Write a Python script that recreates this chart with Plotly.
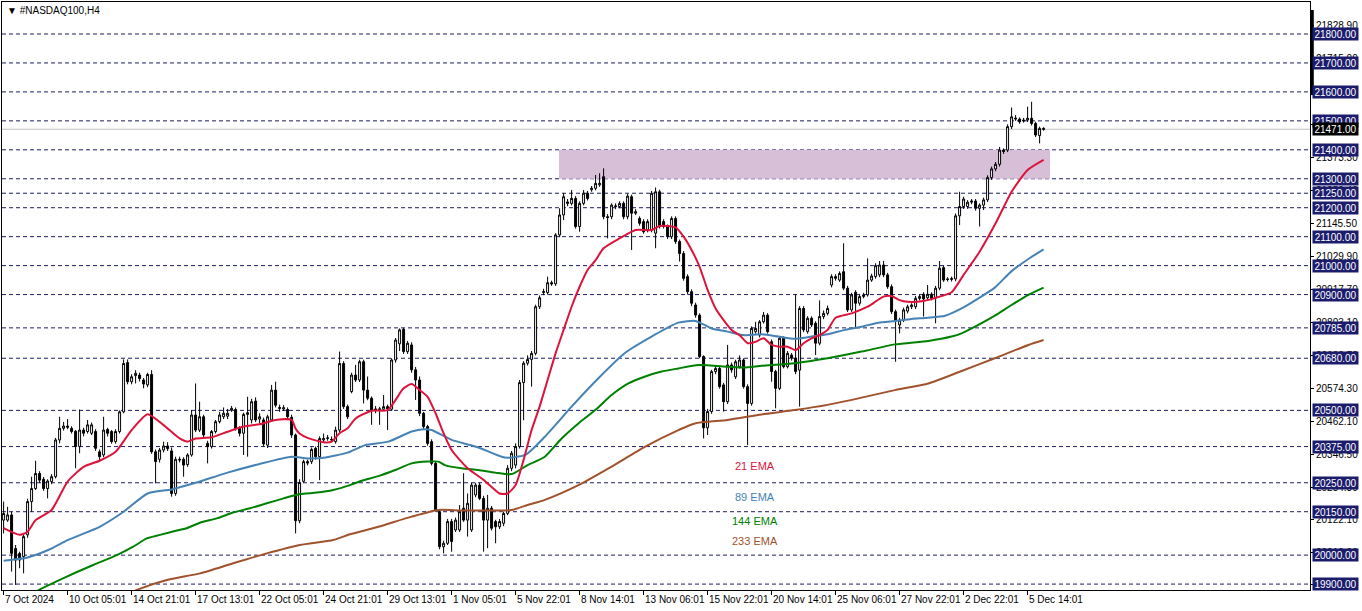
import plotly.graph_objects as go

# ---------------- data (H4 candles, bar index 0..260) ----------------
open_ = [20121,20121,20139,20023,20006,19995,20070,20185,20230,20282,
         20262,20230,20254,20271,20398,20438,20446,20438,20428,20375,
         20432,20427,20421,20427,20357,20346,20434,20427,20392,20427,
         20495,20665,20599,20620,20622,20605,20588,20624,20357,20331,
         20363,20377,20360,20213,20331,20331,20313,20346,20484,20432,
         20478,20386,20375,20427,20461,20478,20480,20500,20503,20438,
         20421,20486,20467,20532,20470,20467,20380,20467,20570,20510,
         20505,20503,20476,20415,20119,20255,20323,20323,20369,20340,
         20398,20403,20400,20392,20432,20662,20513,20565,20622,20605,
         20668,20570,20542,20505,20502,20504,20513,20504,20674,20730,
         20780,20703,20726,20640,20605,20490,20444,20392,20317,20150,
         20029,20041,20116,20087,20087,20162,20121,20087,20208,20242,
         20196,20121,20162,20116,20098,20110,20144,20300,20311,20375,
         20596,20663,20676,20697,20858,20907,20907,20941,20937,21106,
         21175,21220,21215,21232,21135,21215,21250,21262,21267,21279,
         21307,21169,21169,21204,21204,21215,21169,21238,21181,21163,
         21152,21123,21123,21112,21255,21152,21135,21100,21163,21083,
         21042,20962,20910,20864,20829,20686,20440,20496,20634,20645,
         20588,20530,20657,20616,20651,20674,20582,20524,20772,20760,
         20806,20829,20737,20634,20576,20749,20651,20691,20680,20639,
         20852,20772,20818,20801,20732,20824,20835,20933,20962,20950,
         20979,20922,20847,20908,20870,20893,20899,20950,20962,20968,
         21002,20968,20927,20841,20795,20812,20843,20858,20858,20887,
         20901,20889,20901,20889,20922,20993,20954,20952,20954,21172,
         21204,21204,21219,21223,21198,21209,21227,21304,21334,21350,
         21399,21399,21480,21506,21506,21503,21503,21509,21491,21449,
         21474]
high = [20185,20167,20150,20035,20012,20070,20195,20271,20326,20290,
        20270,20262,20280,20405,20478,20460,20470,20445,20432,20503,
        20440,20467,20458,20435,20365,20478,20440,20432,20435,20500,
        20676,20676,20625,20639,20630,20612,20630,20639,20365,20370,
        20392,20390,20372,20340,20340,20338,20352,20501,20593,20530,
        20485,20395,20432,20467,20495,20510,20505,20515,20510,20445,
        20492,20547,20540,20545,20490,20475,20485,20588,20599,20520,
        20518,20510,20485,20420,20262,20330,20330,20372,20375,20410,
        20420,20415,20410,20444,20703,20670,20520,20630,20657,20675,
        20675,20617,20548,20515,20512,20553,20520,20680,20750,20783,
        20785,20740,20735,20650,20617,20495,20450,20400,20322,20156,
        20050,20125,20125,20130,20173,20283,20213,20250,20250,20250,
        20205,20208,20170,20122,20125,20150,20311,20360,20386,20605,
        20670,20690,20705,20865,20897,20920,20962,20948,21112,21198,
        21250,21230,21261,21240,21222,21261,21258,21275,21313,21319,
        21336,21178,21215,21215,21222,21222,21248,21245,21195,21170,
        21160,21160,21258,21270,21262,21160,21142,21170,21170,21090,
        21050,20970,20918,20872,20835,20690,20505,20640,20652,20652,
        20595,20726,20665,20675,20690,20680,20590,20790,20806,20812,
        20840,20836,20745,20640,20756,20756,20705,20698,20901,20860,
        20860,20825,20825,20808,20880,20845,20862,20970,20970,20980,
        21077,20930,20906,20915,20900,20906,21025,20972,21008,21016,
        21016,20975,20935,20848,20820,20855,20865,20870,20895,20900,
        20908,20933,20908,20930,21016,21000,20960,20962,21180,21255,
        21238,21226,21230,21230,21215,21235,21312,21342,21358,21410,
        21405,21488,21546,21520,21512,21510,21549,21566,21497,21480,
        21478]
low = [20075,20115,19943,19897,19955,19937,20060,20150,20225,20250,
       20222,20196,20245,20265,20386,20430,20435,20420,20300,20352,
       20410,20420,20415,20360,20325,20338,20410,20385,20385,20420,
       20490,20590,20590,20593,20600,20576,20580,20350,20248,20320,
       20355,20360,20202,20205,20320,20271,20305,20340,20425,20425,
       20405,20317,20368,20420,20455,20470,20470,20495,20430,20410,
       20346,20340,20455,20460,20455,20375,20370,20460,20510,20495,
       20498,20470,20405,20075,20110,20250,20310,20315,20330,20259,
       20390,20395,20390,20385,20425,20505,20470,20559,20598,20598,
       20524,20535,20450,20490,20450,20498,20432,20498,20665,20705,
       20695,20695,20630,20536,20480,20435,20378,20310,20150,20020,
       20006,20035,20012,20080,20080,20115,20064,20080,20200,20190,
       20012,20024,20085,20041,20090,20100,20138,20290,20300,20368,
       20466,20655,20582,20690,20850,20898,20900,20930,20930,21098,
       21157,21205,21208,21128,21117,21208,21225,21255,21260,21272,
       21160,21094,21160,21195,21198,21160,21160,21054,21175,21138,
       21110,21115,21115,21060,21128,21128,21092,21092,21075,21014,
       20948,20900,20860,20820,20680,20403,20415,20488,20625,20575,
       20496,20522,20630,20608,20645,20575,20380,20516,20765,20752,
       20800,20765,20599,20507,20570,20645,20645,20672,20625,20513,
       20770,20765,20788,20691,20725,20815,20828,20925,20948,20944,
       20915,20840,20840,20783,20862,20887,20893,20944,20955,20960,
       20960,20920,20833,20668,20766,20805,20835,20850,20850,20880,
       20824,20882,20880,20801,20915,20944,20945,20945,20946,21140,
       21196,21196,21212,21190,21135,21192,21220,21296,21326,21342,
       21386,21392,21472,21500,21490,21494,21496,21484,21444,21422,
       21466]
close = [20144,20139,20006,19983,19983,20064,20185,20230,20282,20259,
         20230,20256,20271,20398,20438,20446,20442,20427,20375,20432,
         20421,20450,20450,20369,20340,20432,20421,20392,20427,20495,
         20662,20599,20616,20628,20610,20591,20624,20357,20323,20363,
         20377,20368,20213,20331,20329,20311,20346,20484,20432,20478,
         20415,20375,20427,20461,20484,20490,20490,20507,20438,20421,
         20486,20492,20530,20467,20478,20384,20478,20570,20518,20507,
         20509,20478,20415,20119,20251,20323,20318,20365,20340,20403,
         20403,20405,20398,20432,20662,20513,20478,20622,20605,20668,
         20570,20542,20501,20501,20505,20513,20505,20674,20743,20778,
         20703,20732,20640,20605,20490,20444,20386,20317,20156,20029,
         20041,20116,20047,20121,20150,20121,20179,20242,20242,20196,
         20121,20162,20093,20098,20116,20144,20300,20352,20375,20596,
         20663,20676,20697,20858,20889,20910,20941,20937,21106,21175,
         21238,21215,21232,21135,21215,21250,21232,21267,21284,21284,
         21169,21166,21209,21206,21215,21169,21240,21181,21186,21146,
         21117,21152,21250,21255,21135,21135,21100,21163,21083,21042,
         20956,20910,20870,20829,20686,20440,20496,20634,20645,20582,
         20530,20657,20640,20668,20674,20582,20524,20783,20783,20806,
         20829,20772,20634,20576,20749,20651,20697,20680,20634,20852,
         20778,20818,20795,20732,20824,20835,20852,20962,20956,20973,
         20922,20847,20899,20870,20893,20899,20950,20964,21000,21002,
         20968,20927,20841,20812,20812,20847,20858,20864,20887,20893,
         20885,20901,20887,20922,20991,20950,20952,20955,21172,21204,
         21230,21219,21223,21198,21209,21227,21304,21334,21350,21399,
         21394,21480,21514,21509,21497,21500,21509,21491,21451,21474,
         21471]

# EMA lines (bar index, price)
ema21_x = [0,4,6,8,12,16,20,24,28,32,36,40,44,46,48,52,56,60,64,68,72,73,74,76,80,82,84,86,88,92,96,100,102,104,106,108,110,112,116,120,124,126,128,130,132,134,136,138,140,142,144,146,148,150,154,158,162,164,168,170,172,174,176,178,180,182,184,186,188,190,192,194,196,198,200,202,204,206,208,212,216,220,222,224,226,230,234,237,240,244,248,252,256,260]
ema21_y = [20093,20070,20081,20121,20156,20254,20305,20326,20357,20432,20487,20449,20403,20392,20403,20407,20426,20444,20452,20467,20467,20437,20420,20405,20390,20392,20421,20438,20472,20499,20501,20576,20591,20570,20547,20490,20421,20363,20300,20260,20213,20213,20242,20329,20432,20513,20605,20697,20778,20858,20927,20985,21019,21060,21094,21123,21123,21137,21132,21100,21054,20996,20916,20852,20812,20778,20760,20732,20737,20749,20726,20720,20720,20708,20732,20749,20760,20778,20820,20835,20858,20893,20895,20881,20875,20878,20893,20908,20968,21048,21146,21255,21330,21365]
ema89_x = [0,6,12,16,24,30,36,42,48,56,64,72,76,80,86,90.4,96.2,102,105,107,112,118.7,125.3,130.4,135.3,142,148.7,155.4,162,168.7,173,177,181,185,189.5,193.7,197.8,202,206,210.3,214.5,218.7,222.8,227,231.2,235.4,239.5,243.7,247.8,252,256.2,260]
ema89_y = [19981,19992,20023,20052,20098,20150,20213,20227,20250,20285,20315,20340,20334,20336,20354,20380,20392,20427,20435,20432,20398,20372,20337,20346,20409,20513,20611,20699,20755,20803,20809,20783,20772,20760,20763,20755,20747,20755,20763,20778,20789,20803,20809,20816,20820,20827,20852,20887,20924,20981,21023,21056]
ema144_x = [8,9.1,15.8,22.4,28.3,32.4,35.8,39.1,43.3,45.8,49.1,53.3,57.4,61.6,65.8,70,74.1,78.3,82.4,86.6,89.5,93.7,97.9,102,106,108.7,110.3,114.5,118.7,122.9,127,131,135.3,139.5,143.7,147.9,152,156.2,160.4,164.5,168.7,173.7,181,185,189.5,197.8,206,214.5,222.8,231.2,237,239.5,243.7,247.8,252,256.2,260]
ema144_y = [19874,19882,19926,19966,20000,20029,20058,20070,20085,20093,20112,20127,20147,20162,20179,20196,20211,20216,20225,20242,20257,20273,20294,20317,20323,20323,20311,20300,20294,20285,20280,20311,20340,20403,20455,20501,20553,20593,20617,20634,20645,20657,20651,20648,20654,20663,20680,20703,20728,20740,20755,20766,20795,20827,20864,20899,20924]
ema233_x = [32,33.3,40.8,49.1,57.4,65.8,74.1,82.4,86.6,93.7,102,108.7,114.5,122.9,127,131,135.3,143.7,152,160.4,168.7,172.8,181,189.5,197.8,206,214.5,222.8,231.2,239.5,247.8,256.2,260]
ema233_y = [19872,19880,19914,19937,19972,20006,20035,20052,20072,20098,20133,20156,20154,20154,20156,20173,20191,20242,20306,20375,20432,20455,20467,20486,20501,20519,20544,20570,20593,20636,20680,20726,20743]

# horizontal levels (dashed, labelled on the price scale)
levels = [21800,21700,21600,21500,21400,21300,21250,21200,21100,21000,20900,20785,20680,20500,20375,20250,20150,20000,19900]
last_price = 21471.00
zone_low, zone_high = 21300, 21400
zone_start, zone_end = 138.85, 261.6

# price-scale ticks
ytick_vals = [21828.9,21715.0,21601.2,21487.2,21373.3,21259.4,21145.5,21029.9,20917.7,20803.1,20688.7,20574.3,20462.1,20346.5,20234.3,20122.1,20010.0,19898.0]

# time-scale labels
xtick_bars = [0,16,32,48,64,80,96,112,128,144,160,176,192,208,224,240,256]
xtick_text = ["7 Oct 2024","10 Oct 05:01","14 Oct 21:01","17 Oct 13:01","22 Oct 05:01",
              "24 Oct 21:01","29 Oct 13:01","1 Nov 05:01","5 Nov 22:01","8 Nov 14:01",
              "13 Nov 06:01","15 Nov 22:01","20 Nov 14:01","25 Nov 06:01","27 Nov 22:01",
              "2 Dec 22:01","5 Dec 14:01"]

ema_names = ["21 EMA","89 EMA","144 EMA","233 EMA"]
ema_colors = ["#DC143C","#4682B4","#008000","#A0522D"]

# ---------------- figure ----------------
FONT = "Liberation Sans"
NAVY = "#1c1c6c"
bars = list(range(len(close)))

fig = go.Figure()
fig.add_trace(go.Candlestick(
    x=bars, open=open_, high=high, low=low, close=close,
    increasing=dict(line=dict(color="black", width=1), fillcolor="white"),
    decreasing=dict(line=dict(color="black", width=1), fillcolor="black"),
    whiskerwidth=0, showlegend=False, hoverinfo="skip"))

for xs, ys, col in [(ema233_x, ema233_y, ema_colors[3]), (ema144_x, ema144_y, ema_colors[2]),
                    (ema89_x, ema89_y, ema_colors[1]), (ema21_x, ema21_y, ema_colors[0])]:
    fig.add_trace(go.Scatter(x=xs, y=ys, mode="lines", line=dict(color=col, width=2, shape="spline", smoothing=0.6),
                             showlegend=False, hoverinfo="skip"))

shapes = []
shapes.append(dict(type="rect", xref="x", yref="y", x0=zone_start, x1=zone_end, y0=zone_low, y1=zone_high,
                   fillcolor="#D8BFD8", line=dict(width=0), layer="below"))
for lv in levels:
    shapes.append(dict(type="line", xref="paper", yref="y", x0=0, x1=1, y0=lv, y1=lv,
                       line=dict(color=NAVY, width=1, dash="4px,3px"), layer="below"))
shapes.append(dict(type="line", xref="paper", yref="y", x0=0, x1=1, y0=last_price, y1=last_price,
                   line=dict(color="#C0C0C0", width=1), layer="below"))
# scroll marker on the price scale
shapes.append(dict(type="rect", xref="paper", yref="y", x0=1.0006, x1=1.0029, y0=21589, y1=21883,
                   fillcolor="black", line=dict(width=0)))

ann = []
for lv in levels:
    ann.append(dict(x=1, xref="paper", y=lv, yref="y", xanchor="left", xshift=2, text=f"{lv:.2f}",
                    showarrow=False, bgcolor=NAVY, font=dict(family=FONT, size=10, color="white"),
                    width=45, height=12, borderpad=0))
ann.append(dict(x=1, xref="paper", y=last_price, yref="y", xanchor="left", xshift=2, text=f"{last_price:.2f}",
                showarrow=False, bgcolor="black", font=dict(family=FONT, size=10, color="white"),
                width=45, height=12, borderpad=0))
for b, t in zip(xtick_bars, xtick_text):
    ann.append(dict(x=b, xref="x", y=0, yref="paper", xanchor="left", yanchor="top", yshift=-2, xshift=-1,
                    text=t, showarrow=False, font=dict(family=FONT, size=10, color="black")))
ann.append(dict(x=0, xref="paper", y=1, yref="paper", xanchor="left", yanchor="top", xshift=3, yshift=-1,
                text="▼ #NASDAQ100,H4", showarrow=False, font=dict(family=FONT, size=10, color="black")))
label_y = [20308, 20201, 20118, 20049]
for name, col, yy in zip(ema_names, ema_colors, label_y):
    ann.append(dict(x=187.9, xref="x", y=yy, yref="y", text=name, showarrow=False,
                    font=dict(family=FONT, size=11, color=col)))

fig.update_layout(
    template="none",
    width=1362, height=611,
    margin=dict(l=2, r=52, t=2, b=21, pad=0, autoexpand=False),
    paper_bgcolor="white", plot_bgcolor="white",
    hovermode=False, showlegend=False,
    shapes=shapes, annotations=ann,
    xaxis=dict(range=[-0.4, 326.6], showgrid=False, zeroline=False, automargin=False,
               tickvals=xtick_bars, showticklabels=False, ticks="outside", ticklen=4,
               tickcolor="black", showline=True, linecolor="black", linewidth=1, mirror=True,
               rangeslider=dict(visible=False)),
    yaxis=dict(range=[19879.6, 21910.5], side="right", showgrid=False, zeroline=False, automargin=False,
               tickvals=ytick_vals, ticktext=[f"{v:.2f}" for v in ytick_vals],
               ticks="outside", ticklen=3, tickcolor="black",
               tickfont=dict(family=FONT, size=10, color="black"),
               showline=True, linecolor="black", linewidth=1, mirror=True),
)

fig.write_html("out.html", config={"displayModeBar": False},
               post_script="document.body.style.margin='0';document.body.style.overflow='hidden';")
